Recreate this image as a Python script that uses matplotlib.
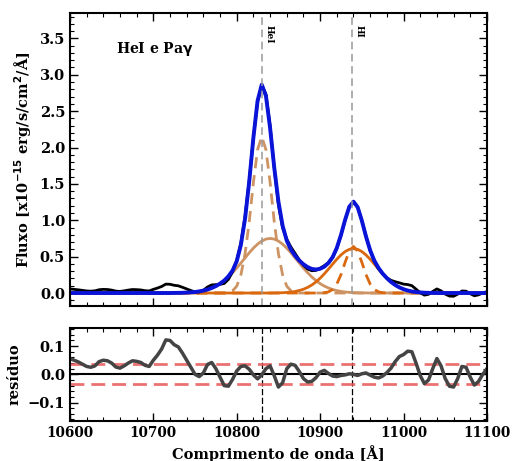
import numpy as np
import matplotlib
matplotlib.use("Agg")
import matplotlib.pyplot as plt
from matplotlib.ticker import MultipleLocator

plt.rcParams['font.family'] = ['DejaVu Serif']
plt.rcParams['font.weight'] = 'bold'
plt.rcParams['axes.labelweight'] = 'bold'
plt.rcParams['mathtext.default'] = 'bf'

# wavelength grid (Angstrom), 5 A steps
wave = np.arange(10600, 11101, 5)

# fitted components
hei_narrow = [0.0] * 38 + [
    0.008, 0.03,
    0.094, 0.25, 0.54, 0.98, 1.52, 1.97, 2.15, 1.97, 1.52, 0.98,
    0.54, 0.25, 0.094, 0.03, 0.008] + [0.0] * 46

hei_broad = [0.0] * 25 + [
    0.001, 0.002, 0.003, 0.006, 0.009, 0.014,
    0.022, 0.033, 0.048, 0.069, 0.095, 0.129, 0.171, 0.221, 0.279, 0.343,
    0.412, 0.483, 0.553, 0.617, 0.672, 0.714, 0.741, 0.75, 0.741, 0.714,
    0.672, 0.617, 0.553, 0.483, 0.412, 0.343, 0.279, 0.221, 0.171, 0.129,
    0.095, 0.069, 0.048, 0.033, 0.022, 0.014, 0.009, 0.006, 0.003, 0.002,
    0.001] + [0.0] * 29

pag_broad = [0.0] * 49 + [
    0.001, 0.002, 0.004, 0.008, 0.013, 0.021, 0.034, 0.052, 0.077, 0.110,
    0.152, 0.204, 0.263, 0.329, 0.397, 0.464, 0.523, 0.570, 0.600, 0.61,
    0.600, 0.570, 0.523, 0.464, 0.397, 0.329, 0.263, 0.204, 0.152, 0.110,
    0.077, 0.052, 0.034, 0.021, 0.013, 0.008, 0.004, 0.002, 0.001] + [0.0] * 13

pag_narrow = [0.0] * 61 + [
    0.004, 0.016, 0.048, 0.123, 0.253, 0.423, 0.577, 0.64, 0.577,
    0.423, 0.253, 0.123, 0.048, 0.016, 0.004] + [0.0] * 25

residuo = [
    0.056, 0.05, 0.044, 0.036, 0.028, 0.025, 0.03, 0.045, 0.05, 0.048,
    0.04, 0.026, 0.022, 0.03, 0.04, 0.048, 0.046, 0.042, 0.032, 0.028,
    0.05, 0.068, 0.09, 0.122, 0.12, 0.105, 0.097, 0.075, 0.05, 0.025,
    0.0, -0.008, 0.005, 0.035, 0.042, 0.02, -0.01, -0.04, -0.042, -0.018,
    0.012, 0.028, 0.03, 0.018, -0.002, -0.016, -0.002, 0.02, 0.03, -0.005,
    -0.045, -0.03, 0.02, 0.036, 0.032, 0.01, -0.015, -0.027, -0.025, -0.012,
    0.008, 0.014, 0.003, -0.006, -0.008, -0.004, -0.002, 0.002, 0.0, -0.004,
    0.002, 0.005, -0.003, -0.01, -0.013, -0.006, 0.006, 0.022, 0.045, 0.063,
    0.07, 0.082, 0.08, 0.04, -0.004, -0.033, -0.02, 0.02, 0.056, 0.03,
    -0.015, -0.042, -0.045, -0.015, 0.028, 0.025, -0.01, -0.038, -0.025, 0.0,
    0.02]

lines = [10830, 10938]
line_names = ['HeI', 'HI']
sigma_res = 0.035

modelo = np.array(hei_narrow) + np.array(hei_broad) + np.array(pag_broad) + np.array(pag_narrow)
observado = modelo + np.array(residuo)

tan = '#cd9363'
orange = '#d9680f'

fig = plt.figure(figsize=(5.18, 4.61), dpi=100)
ax1 = fig.add_axes([0.135, 0.336, 0.805, 0.636])
ax2 = fig.add_axes([0.135, 0.087, 0.805, 0.202])

ax1.plot(wave, hei_broad, color=tan, lw=2)
ax1.plot(wave, hei_narrow, color=tan, lw=2, ls=(0, (4, 2.5)))
ax1.plot(wave, pag_broad, color=orange, lw=2)
ax1.plot(wave, pag_narrow, color=orange, lw=2, ls=(0, (4, 2.5)))
ax1.plot(wave, observado, color='black', lw=2)
ax1.plot(wave, modelo, color='#0a14d8', lw=2.8)

for x, name in zip(lines, line_names):
    ax1.axvline(x, color='#999999', lw=1.1, ls=(0, (5, 3)))
    ax1.text(x + 3, 3.68, name, rotation=270, fontsize=6.5, va='top', ha='left')
    ax2.axvline(x, color='black', lw=0.9, ls=(0, (5, 2)))

ax1.text(10655, 3.36, r'HeI e Pa$\gamma$', fontsize=10, va='center', ha='left')
ax1.set_xlim(10600, 11100)
ax1.set_ylim(-0.18, 3.85)
ax1.set_ylabel(r'Fluxo [x10$^{-15}$ erg/s/cm$^2$/Å]', fontsize=10.5)
ax1.set_xticklabels([])
ax1.yaxis.set_major_locator(MultipleLocator(0.5))
ax1.yaxis.set_minor_locator(MultipleLocator(0.1))

ax2.axhline(0, color='black', lw=1.5)
ax2.axhline(sigma_res, color='#e85858', lw=2, ls=(0, (5, 2.5)), alpha=0.85)
ax2.axhline(-sigma_res, color='#e85858', lw=2, ls=(0, (5, 2.5)), alpha=0.85)
ax2.plot(wave, residuo, color='#444444', lw=2.5)
ax2.set_xlim(10600, 11100)
ax2.set_ylim(-0.165, 0.165)
ax2.set_ylabel('resíduo', fontsize=10.5)
ax2.set_xlabel('Comprimento de onda [Å]', fontsize=10.5)
ax2.yaxis.set_major_locator(MultipleLocator(0.1))
ax2.yaxis.set_minor_locator(MultipleLocator(0.02))

for ax in (ax1, ax2):
    ax.xaxis.set_major_locator(MultipleLocator(100))
    ax.xaxis.set_minor_locator(MultipleLocator(20))
    ax.tick_params(which='both', direction='in', top=True, right=True, labelsize=10.5)
    ax.tick_params(axis='x', labelsize=9.8)
    ax.tick_params(which='major', length=6, width=1)
    ax.tick_params(which='minor', length=3, width=0.8)
    for s in ax.spines.values():
        s.set_linewidth(1.5)

fig.savefig('out.png', dpi=100)
